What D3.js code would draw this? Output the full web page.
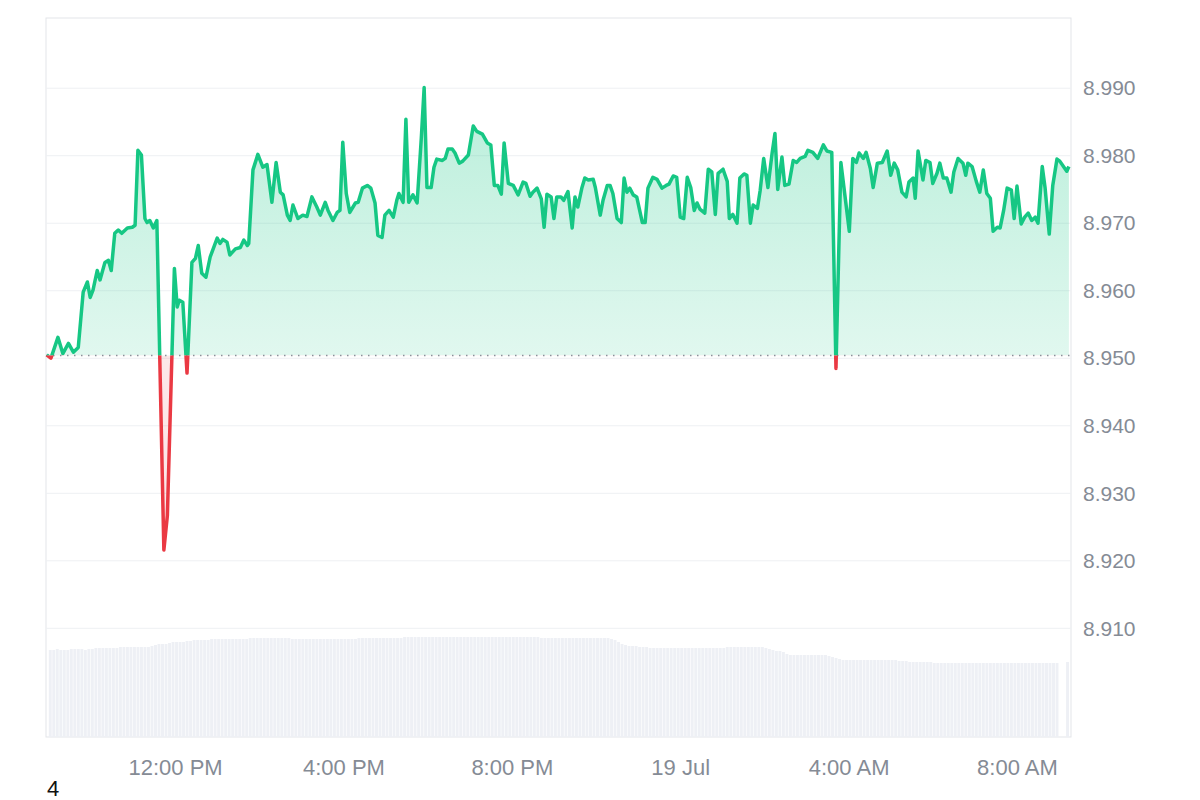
<!DOCTYPE html>
<html><head><meta charset="utf-8">
<script src="https://cdn.jsdelivr.net/npm/d3@7/dist/d3.min.js"></script>
<style>body{margin:0;background:#fff}svg{display:block}</style>
</head><body>
<svg id="c" width="1200" height="800"></svg>
<script>
// ---- data (minutes after 00:00, 18 Jul) ----
const minutes = [537,543,553,560,568,575,582,589,595,599,603,609,613,620,625,629,634,639,644,652,659,663,667,672,677,680,684,689,694,704,709,719,723,726,731,737,744,749,753,758,764,770,780,784,788,794,798,806,813,818,823,825,831,838,845,851,858,864,870,874,880,884,888,895,902,908,915,922,927,934,938,945,951,955,959,964,969,977,981,987,994,999,1005,1009,1015,1019,1025,1031,1036,1039,1045,1049,1053,1059,1065,1071,1075,1079,1085,1089,1093,1101,1105,1109,1115,1119,1125,1130,1138,1145,1150,1158,1165,1170,1175,1180,1185,1189,1195,1202,1209,1216,1220,1226,1230,1236,1242,1246,1250,1256,1260,1264,1270,1274,1280,1286,1290,1294,1300,1304,1309,1316,1319,1326,1330,1336,1340,1344,1350,1356,1360,1364,1368,1373,1378,1386,1390,1394,1401,1407,1414,1420,1424,1430,1435,1440,1445,1450,1455,1460,1464,1468,1475,1480,1485,1490,1494,1501,1507,1510,1515,1521,1525,1531,1535,1540,1544,1550,1554,1559,1565,1571,1575,1579,1585,1589,1595,1601,1606,1611,1618,1622,1629,1636,1644,1649,1656,1662,1669,1681,1686,1691,1695,1701,1705,1711,1715,1721,1728,1735,1740,1745,1750,1756,1762,1766,1772,1775,1779,1786,1790,1796,1800,1806,1810,1815,1820,1826,1830,1836,1843,1847,1850,1856,1862,1867,1872,1877,1882,1886,1892,1896,1901,1906,1912,1916,1920,1926,1931,1936,1941,1946,1950,1956,1960,1966,1971,1977,1981,1987,1991,1994];
const prices = [8.9505,8.9500,8.9531,8.9507,8.9522,8.9509,8.9516,8.9598,8.9613,8.9590,
8.9601,8.9630,8.9616,8.9642,8.9645,8.9630,8.9685,8.9690,8.9685,8.9693,
8.9694,8.9697,8.9808,8.9801,8.9707,8.9701,8.9704,8.9693,8.9704,8.9216,
8.9267,8.9633,8.9576,8.9586,8.9583,8.9478,8.9642,8.9648,8.9667,8.9626,
8.9620,8.9650,8.9678,8.9670,8.9676,8.9672,8.9653,8.9662,8.9664,8.9675,
8.9667,8.9670,8.9779,8.9802,8.9783,8.9787,8.9731,8.9790,8.9746,8.9742,
8.9712,8.9704,8.9727,8.9707,8.9712,8.9710,8.9739,8.9724,8.9712,8.9731,
8.9719,8.9704,8.9716,8.9719,8.9820,8.9744,8.9716,8.9730,8.9731,8.9752,
8.9756,8.9752,8.9730,8.9682,8.9679,8.9712,8.9719,8.9709,8.9734,8.9744,
8.9731,8.9854,8.9731,8.9742,8.9730,8.9827,8.9901,8.9753,8.9753,8.9783,
8.9795,8.9793,8.9796,8.9810,8.9810,8.9804,8.9789,8.9792,8.9801,8.9844,
8.9836,8.9832,8.9819,8.9816,8.9756,8.9756,8.9743,8.9819,8.9759,8.9756,
8.9742,8.9761,8.9759,8.9740,8.9746,8.9752,8.9736,8.9694,8.9743,8.9739,
8.9707,8.9739,8.9739,8.9734,8.9747,8.9693,8.9739,8.9724,8.9753,8.9767,
8.9764,8.9765,8.9753,8.9712,8.9734,8.9756,8.9756,8.9744,8.9707,8.9701,
8.9767,8.9746,8.9752,8.9742,8.9739,8.9701,8.9701,8.9752,8.9768,8.9765,
8.9752,8.9756,8.9758,8.9770,8.9768,8.9709,8.9707,8.9768,8.9753,8.9719,
8.9730,8.9721,8.9715,8.9780,8.9776,8.9713,8.9774,8.9780,8.9762,8.9707,
8.9713,8.9700,8.9767,8.9773,8.9771,8.9700,8.9727,8.9722,8.9749,8.9796,
8.9753,8.9804,8.9833,8.9750,8.9798,8.9756,8.9758,8.9793,8.9790,8.9796,
8.9799,8.9808,8.9805,8.9796,8.9816,8.9807,8.9805,8.9485,8.9790,8.9688,
8.9796,8.9790,8.9804,8.9796,8.9805,8.9781,8.9753,8.9789,8.9790,8.9807,
8.9771,8.9789,8.9779,8.9746,8.9739,8.9761,8.9767,8.9737,8.9807,8.9764,
8.9793,8.9790,8.9759,8.9774,8.9789,8.9767,8.9767,8.9746,8.9776,8.9796,
8.9789,8.9771,8.9789,8.9784,8.9762,8.9746,8.9779,8.9744,8.9737,8.9688,
8.9694,8.9693,8.9719,8.9752,8.9749,8.9707,8.9755,8.9699,8.9709,8.9715,
8.9704,8.9709,8.9700,8.9784,8.9753,8.9684,8.9756,8.9795,8.9792,8.9783,
8.9777,8.9784];
const openPrice = 8.9504;
// volume per 5-minute bucket starting 09:00 18 Jul (relative units)
const volumeStart = 540;
const volumes = [
87,87,88,87,87,87,88,88,88,88,87,88,
88,89,89,89,89,89,89,89,90,90,90,90,
90,90,90,90,90,91,92,93,93,93,94,95,
95,95,95,96,96,97,97,97,97,97,98,98,
98,98,98,98,98,98,98,98,98,99,99,99,
99,99,99,99,99,99,99,99,99,98,98,98,
98,98,98,98,98,98,98,98,98,98,98,98,
98,98,98,98,99,99,99,99,99,99,99,99,
99,99,99,99,99,100,100,100,100,100,100,100,
100,100,100,100,100,100,100,100,100,100,100,100,
100,100,100,100,100,100,100,100,100,100,100,100,
100,100,100,100,100,100,100,100,99,99,99,99,
99,99,99,99,99,99,99,99,99,99,99,99,
99,99,99,99,98,97,95,93,92,91,91,91,
90,90,90,89,89,89,89,89,89,89,89,89,
89,89,89,89,89,89,89,89,89,89,89,89,
89,90,90,90,90,90,90,90,90,90,90,90,
89,88,87,86,86,85,83,82,82,82,82,82,
82,82,82,82,82,82,81,80,79,78,77,77,
77,77,77,77,77,77,77,77,77,77,77,77,
77,77,76,76,76,75,75,75,75,75,75,75,
74,74,74,74,74,74,74,74,74,74,74,74,
74,74,74,74,74,74,74,74,74,74,74,74,
74,74,74,74,74,74,74,74,74,74,74,74,
null,null,75];
const yTicks = [8.91,8.92,8.93,8.94,8.95,8.96,8.97,8.98,8.99];
const xTickLabels = ["12:00 PM","4:00 PM","8:00 PM","19 Jul","4:00 AM","8:00 AM"];
const footnote = "4";

// ---- layout ----
const L = 46, R = 1071, T = 18, B = 737;
const toDate = m => new Date(2024, 6, 18, 0, m);
const x = d3.scaleTime().domain([toDate(536), toDate(1997)]).range([L, R]);
const y = d3.scaleLinear().domain([8.8939, 9.0004]).range([B, T]);
const yVol = d3.scaleLinear().domain([0, 100]).range([B, B - 100]);
const yBase = y(openPrice);

const svg = d3.select("#c");
const font = "'Liberation Sans', Arial, Helvetica, sans-serif";

const defs = svg.append("defs");
const gG = defs.append("linearGradient").attr("id","gG").attr("gradientUnits","userSpaceOnUse")
  .attr("x1",0).attr("x2",0).attr("y1",y(8.99)).attr("y2",yBase);
gG.append("stop").attr("offset","0").attr("stop-color","#16c784").attr("stop-opacity",0.3);
gG.append("stop").attr("offset","1").attr("stop-color","#16c784").attr("stop-opacity",0.13);
defs.append("clipPath").attr("id","clipUp").append("rect").attr("x",0).attr("y",0).attr("width",1200).attr("height",yBase);
defs.append("clipPath").attr("id","clipDn").append("rect").attr("x",0).attr("y",yBase).attr("width",1200).attr("height",800-yBase);

// frame
svg.append("rect").attr("x",L).attr("y",T).attr("width",R-L).attr("height",B-T)
  .attr("fill","none").attr("stroke","#e3e5e9").attr("stroke-width",1);

// gridlines
svg.append("g").selectAll("line").data(yTicks).join("line")
  .attr("x1",L).attr("x2",R).attr("y1",d=>y(d)).attr("y2",d=>y(d))
  .attr("stroke","#eef0f3").attr("stroke-width",1);

// volume bars
const step = x(toDate(volumeStart+5)) - x(toDate(volumeStart));
svg.append("g").selectAll("rect").data(volumes.map((v,i)=>({v,i})).filter(d=>d.v!=null)).join("rect")
  .attr("x", d => x(toDate(volumeStart + 5*d.i)))
  .attr("width", step - 0.6)
  .attr("y", d => yVol(d.v))
  .attr("height", d => B - yVol(d.v))
  .attr("fill", "#eef0f5");

const pts = minutes.map((m,i)=>({t:toDate(m), p:prices[i]}));
const area = d3.area().x(d=>x(d.t)).y0(yBase).y1(d=>y(d.p));
const line = d3.line().x(d=>x(d.t)).y(d=>y(d.p));

svg.append("path").datum(pts).attr("d",area).attr("fill","url(#gG)").attr("clip-path","url(#clipUp)");
svg.append("path").datum(pts).attr("d",area).attr("fill","rgba(234,57,67,0.12)").attr("clip-path","url(#clipDn)");

// baseline dotted
svg.append("line").attr("x1",L).attr("x2",R).attr("y1",yBase).attr("y2",yBase)
  .attr("stroke","#8a9099").attr("stroke-width",1.5).attr("stroke-dasharray","1.5,5.5");

svg.append("path").datum(pts).attr("d",line).attr("fill","none").attr("stroke","#16c784")
  .attr("stroke-width",3.5).attr("stroke-linejoin","round").attr("clip-path","url(#clipUp)");
svg.append("path").datum(pts).attr("d",line).attr("fill","none").attr("stroke","#ea3943")
  .attr("stroke-width",3.5).attr("stroke-linejoin","round").attr("clip-path","url(#clipDn)");

// y axis (right)
const yAxis = d3.axisRight(y).tickValues(yTicks).tickSize(0).tickPadding(12).tickFormat(d3.format(".3f"));
const gy = svg.append("g").attr("transform",`translate(${R},0)`).call(yAxis);
gy.select(".domain").remove();
gy.selectAll("text").attr("fill","#858b95").attr("font-size",21).attr("font-family",font);

// x axis
const xTicks = d3.timeHour.every(4).range(toDate(536), toDate(1997));
const xAxis = d3.axisBottom(x).tickValues(xTicks).tickSize(0).tickPadding(22)
  .tickFormat((d,i)=>xTickLabels[i]);
const gx = svg.append("g").attr("transform",`translate(0,${B})`).call(xAxis);
gx.select(".domain").remove();
gx.selectAll("text").attr("fill","#858b95").attr("font-size",22).attr("font-family",font);

svg.append("text").attr("x",47).attr("y",796).attr("font-size",22).attr("font-family",font)
  .attr("fill","#111").text(footnote);
</script>
</body></html>
